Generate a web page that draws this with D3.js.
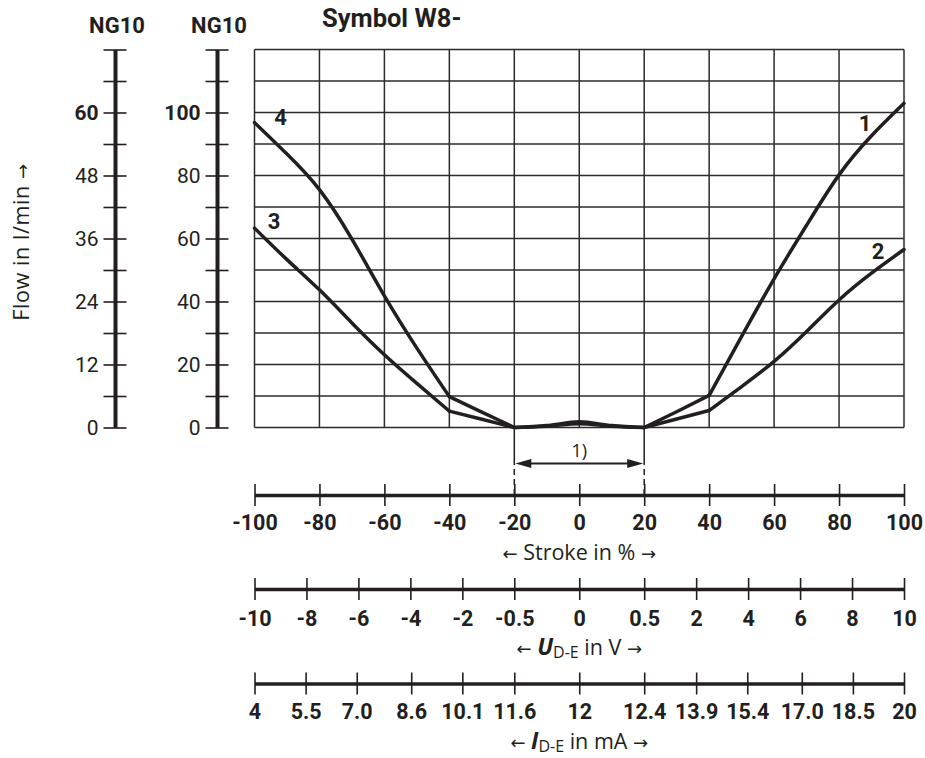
<!DOCTYPE html>
<html>
<head>
<meta charset="utf-8">
<script src="https://cdn.jsdelivr.net/npm/d3@7"></script>
<style>
  body { margin: 0; background: #fff; }
  text { font-family: Roboto, "Noto Sans", sans-serif; fill: #231f20; }
  .title { font-family: "Open Sans", "Noto Sans", sans-serif; }
  .arr { font-family: "DejaVu Sans", sans-serif; font-size: 18px; }
</style>
</head>
<body>
<script>
// stroke positions (%) the curves were read at
var stroke = [-100, -90, -80, -70, -60, -50, -40, -30, -20, -10, 0, 10, 20, 30, 40, 50, 60, 70, 80, 90, 100];
// curve 4 (left) / 1 (right), flow on the 0..120 grid scale
var steepFlow = [96.8, 86.8, 75.5, 59.8, 41.8, 25.2, 9.8, 4.9, 0, 0.6, 1.8, 0.6, 0, 5.0, 10.2, 28.9, 47.2, 64.2, 80.2, 92.6, 102.9];
// curve 3 (left) / 2 (right)
var shallowFlow = [63.3, 53.3, 43.7, 33.2, 23.1, 14, 5.2, 2.6, 0, 0.4, 1.2, 0.4, 0, 2.7, 5.4, 13, 21, 30.5, 40.5, 49, 56.5];
// pieces drawn separately so the kinks stay sharp
var breaks = [-100, -40, -20, 20, 40, 100];

// left axes
var ng10aTicks = [0, 6, 12, 18, 24, 30, 36, 42, 48, 54, 60, 66, 72];
var ng10aLabels = [0, 12, 24, 36, 48, 60];
var ng10bTicks = [0, 10, 20, 30, 40, 50, 60, 70, 80, 90, 100, 110, 120];
var ng10bLabels = [0, 20, 40, 60, 80, 100];

// bottom axes
var strokeTicks = [-100, -80, -60, -40, -20, 0, 20, 40, 60, 80, 100];
var strokeBreaks = [-100, -36, -20, 20, 36, 100];
var voltBreaks = [-10, -2, -0.5, 0.5, 2, 10];
var voltTicks = [-10, -8, -6, -4, -2, -0.5, 0, 0.5, 2, 4, 6, 8, 10];
var currBreaks = [4, 10.1, 11.6, 12.4, 13.9, 20];
var currTicks = [4, 5.5, 7.0, 8.6, 10.1, 11.6, 12, 12.4, 13.9, 15.4, 17.0, 18.5, 20];
var currLabels = ['4', '5.5', '7.0', '8.6', '10.1', '11.6', '12', '12.4', '13.9', '15.4', '17.0', '18.5', '20'];

var ink = '#231f20';
var svg = d3.select('body').append('svg').attr('width', 925).attr('height', 758);

var x = d3.scaleLinear().domain([-100, 100]).range([254.5, 904]);
var y = d3.scaleLinear().domain([0, 120]).range([427.5, 49.5]);
var yA = d3.scaleLinear().domain([0, 72]).range(y.range());

/* grid */
var grid = svg.append('g').attr('stroke', '#2b2b2b').attr('stroke-width', 1.5);
grid.selectAll('line.v').data(strokeTicks).enter().append('line')
  .attr('x1', function(d) { return x(d); }).attr('x2', function(d) { return x(d); })
  .attr('y1', y(0)).attr('y2', y(120));
grid.selectAll('line.h').data(ng10bTicks).enter().append('line')
  .attr('x1', x(-100)).attr('x2', x(100))
  .attr('y1', function(d) { return y(d); }).attr('y2', function(d) { return y(d); });

/* left axes */
function leftAxis(xPos, scale, ticks, labels, boldVal) {
  var g = svg.append('g').attr('transform', 'translate(' + xPos + ',0)')
    .call(d3.axisLeft(scale).tickValues(ticks).tickSizeInner(11.5).tickSizeOuter(0).tickPadding(5)
      .tickFormat(function(d) { return labels.indexOf(d) >= 0 ? d : ''; }));
  g.select('.domain').attr('stroke', ink).attr('stroke-width', 4);
  g.selectAll('.tick line').attr('stroke', ink).attr('stroke-width', 1.6).attr('x2', -11.5).attr('x1', 11.5);
  g.selectAll('.tick text').attr('fill', ink).style('font-size', '21px')
    .style('font-family', 'Roboto, sans-serif')
    .style('font-weight', function(d) { return d === boldVal ? 'bold' : 'normal'; });
  g.attr('font-family', null).attr('font-size', null);
  return g;
}
leftAxis(115, yA, ng10aTicks, ng10aLabels, 60);
leftAxis(217, y, ng10bTicks, ng10bLabels, 100);

svg.append('text').attr('x', 117).attr('y', 33).attr('text-anchor', 'middle')
  .style('font-size', '22px').style('font-weight', 'bold').text('NG10');
svg.append('text').attr('x', 219).attr('y', 33).attr('text-anchor', 'middle')
  .style('font-size', '22px').style('font-weight', 'bold').text('NG10');
svg.append('text').attr('x', 322).attr('y', 27)
  .style('font-size', '25.5px').style('font-weight', 'bold').text('Symbol W8-');

var flowTitle = svg.append('text').attr('class', 'title').attr('transform', 'translate(29,242) rotate(-90)')
  .attr('text-anchor', 'middle').style('font-size', '21.5px').style('letter-spacing', '0.6px');
flowTitle.append('tspan').text('Flow in l/min ');
flowTitle.append('tspan').attr('class', 'arr').text('\u2192');

/* curves */
var line = d3.line()
  .x(function(d) { return x(d[0]); })
  .y(function(d) { return y(d[1]); });

[steepFlow, shallowFlow].forEach(function(flow) {
  var pts = stroke.map(function(s, i) { return [s, flow[i]]; });
  for (var b = 0; b < breaks.length - 1; b++) {
    var piece = pts.filter(function(p) { return p[0] >= breaks[b] && p[0] <= breaks[b + 1]; });
    var outer = b === 0 || b === breaks.length - 2;
    svg.append('path').datum(piece)
      .attr('d', line.curve(outer ? d3.curveNatural : d3.curveMonotoneX))
      .attr('fill', 'none').attr('stroke', ink).attr('stroke-width', 3.5)
      .attr('stroke-linejoin', 'round').attr('stroke-linecap', 'round');
  }
});

// curve numbers
var curveLabels = [
  { t: '4', s: -92, f: 96 },
  { t: '3', s: -94, f: 63 },
  { t: '1', s: 88, f: 94 },
  { t: '2', s: 92, f: 53.5 }
];
svg.selectAll('text.cl').data(curveLabels).enter().append('text')
  .attr('x', function(d) { return x(d.s); }).attr('y', function(d) { return y(d.f); })
  .attr('text-anchor', 'middle').style('font-size', '22px').style('font-weight', 'bold')
  .text(function(d) { return d.t; });

/* dead band marker 1) */
var axisY1 = 495;
[-20, 20].forEach(function(s) {
  svg.append('line').attr('x1', x(s)).attr('x2', x(s)).attr('y1', y(0)).attr('y2', 459)
    .attr('stroke', ink).attr('stroke-width', 1.5);
  svg.append('line').attr('x1', x(s)).attr('x2', x(s)).attr('y1', 459).attr('y2', axisY1)
    .attr('stroke', ink).attr('stroke-width', 1.5).attr('stroke-dasharray', '6,4');
});
var ay = 463.5;
svg.append('line').attr('x1', x(-20) + 10).attr('x2', x(20) - 10).attr('y1', ay).attr('y2', ay)
  .attr('stroke', ink).attr('stroke-width', 1.8);
svg.append('path').attr('fill', ink)
  .attr('d', 'M' + (x(-20) + 1) + ',' + ay + 'l16,-4.5v9z');
svg.append('path').attr('fill', ink)
  .attr('d', 'M' + (x(20) - 1) + ',' + ay + 'l-16,-4.5v9z');
svg.append('text').attr('class', 'title').attr('x', x(0)).attr('y', 457).attr('text-anchor', 'middle')
  .style('font-size', '18px').text('1)');

/* bottom axes */
function bottomAxis(yPos, scale, ticks, fmt, labelY) {
  var g = svg.append('g').attr('transform', 'translate(0,' + yPos + ')')
    .call(d3.axisBottom(scale).tickValues(ticks).tickSizeInner(11).tickSizeOuter(0).tickFormat(fmt));
  g.select('.domain').attr('stroke', ink).attr('stroke-width', 3.5);
  g.selectAll('.tick line').attr('stroke', ink).attr('stroke-width', 1.6).attr('y1', -11).attr('y2', 11);
  g.selectAll('.tick text').attr('fill', ink).attr('y', labelY).attr('dy', null)
    .style('font-size', '21.5px').style('font-weight', 'bold').style('font-family', 'Roboto, sans-serif');
  g.attr('font-family', null).attr('font-size', null);
  return g;
}
var xVolt = d3.scaleLinear().domain(voltBreaks).range(strokeBreaks.map(x));
var xCurr = d3.scaleLinear().domain(currBreaks).range(strokeBreaks.map(x));

bottomAxis(495, x, strokeTicks, function(d) { return d; }, 35);
bottomAxis(589, xVolt, voltTicks, function(d) { return d; }, 37);
bottomAxis(683.5, xCurr, currTicks, function(d, i) { return currLabels[i]; }, 35.5);

// axis titles
function axisTitle(yPos, sym, rest) {
  var t = svg.append('text').attr('class', 'title').attr('x', x(0)).attr('y', yPos)
    .attr('text-anchor', 'middle').style('font-size', '21.5px');
  t.append('tspan').attr('class', 'arr').text('\u2190');
  if (sym) {
    t.append('tspan').text(' ');
    t.append('tspan').style('font-weight', 'bold').style('font-style', 'italic').style('font-size', '23px').text(sym);
    t.append('tspan').attr('dy', 2.5).style('font-size', '16px').text('D-E');
    t.append('tspan').attr('dy', -2.5).text(' ' + rest + ' ');
  } else {
    t.append('tspan').text(' ' + rest + ' ');
  }
  t.append('tspan').attr('class', 'arr').text('\u2192');
}
axisTitle(560, null, 'Stroke in %');
axisTitle(655, 'U', 'in V');
axisTitle(749, 'I', 'in mA');
</script>
</body>
</html>
